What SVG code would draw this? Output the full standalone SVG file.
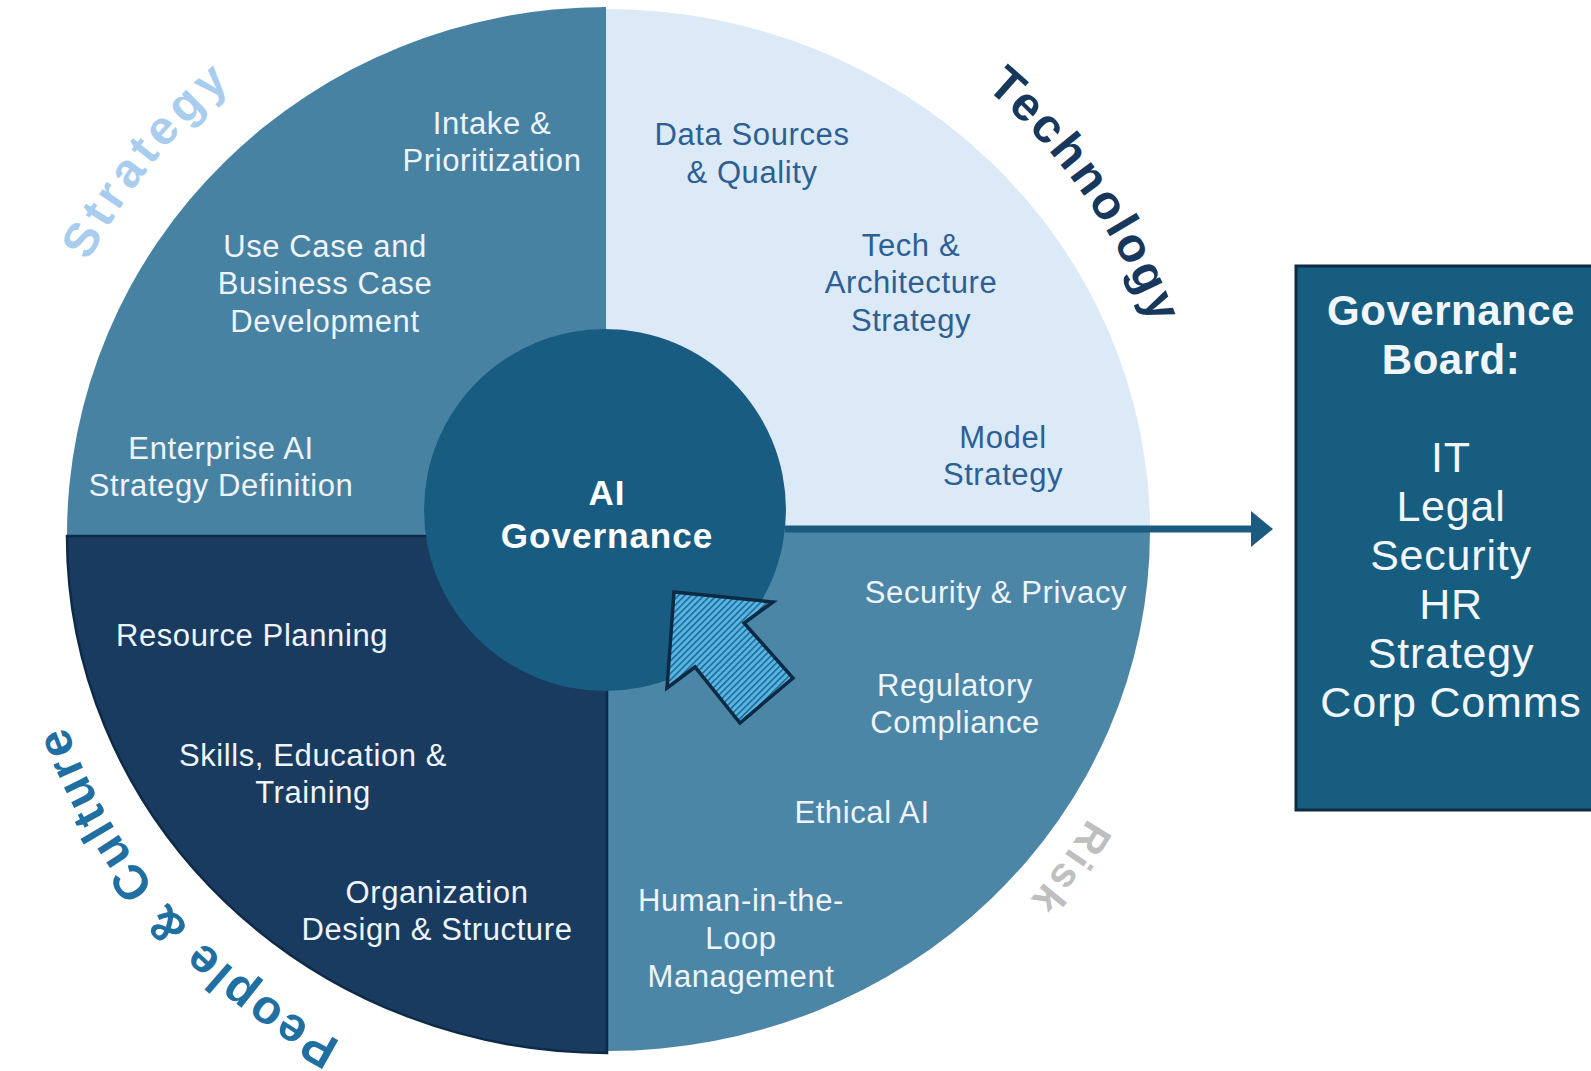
<svg xmlns="http://www.w3.org/2000/svg" width="1591" height="1071" viewBox="0 0 1591 1071">
<style>
.t{font-family:"Liberation Sans",Arial,sans-serif;font-size:31px;text-anchor:middle;letter-spacing:0.6px}
.w{fill:#eef4fa}
.b{fill:#2c5f94}
.c{font-family:"Liberation Sans",Arial,sans-serif;font-weight:bold;fill:#ffffff;text-anchor:middle}
.lab{font-family:"Liberation Sans",Arial,sans-serif;font-weight:bold;font-size:48px;text-anchor:middle}
.board{font-family:"Liberation Sans",Arial,sans-serif;fill:#f2f6fa;text-anchor:middle}
</style>
<defs>
<pattern id="hatch" width="4.5" height="4.5" patternUnits="userSpaceOnUse" patternTransform="rotate(45)">
<rect width="4.5" height="4.5" fill="#58b6e3"/><rect width="1.6" height="4.5" fill="#1f6a96"/>
</pattern>
<marker id="ah" markerUnits="userSpaceOnUse" markerWidth="24" markerHeight="36" refX="2" refY="18" orient="auto">
<path d="M0,0 L22,18 L0,36 Z" fill="#1b5b80"/>
</marker>
<path id="pStrategy" d="M23.2,545.3 A585,585 0 0 1 492.4,-42.5"/>
<path id="pTech" d="M756.7,-31.7 A582,582 0 0 1 1188,579.7"/>
<path id="pPeople" d="M518.8,1100.1 A576,576 0 0 1 32.1,542.0"/>
<path id="pRisk" d="M1163,588.4 A562,562 0 0 1 837.4,1044.4"/>
</defs>
<rect width="1591" height="1071" fill="#ffffff"/>

<g id="quadrant-strategy">
<path d="M606,535 L67,535 A539,528 0 0 1 606,7 Z" fill="#4882a3"/>
<text class="lab" fill="#a8cdef"><textPath href="#pStrategy" startOffset="50%" textLength="228" lengthAdjust="spacing">Strategy</textPath></text>
<text class="t w"><tspan x="492" y="134">Intake &amp;</tspan><tspan x="492" y="171">Prioritization</tspan></text>
<text class="t w"><tspan x="325" y="257">Use Case and</tspan><tspan x="325" y="294">Business Case</tspan><tspan x="325" y="332">Development</tspan></text>
<text class="t w"><tspan x="221" y="459">Enterprise AI</tspan><tspan x="221" y="496">Strategy Definition</tspan></text>
</g>

<g id="quadrant-technology">
<path d="M606,531 L606,9 A544,522 0 0 1 1150,531 Z" fill="#dce9f6"/>
<text class="lab" fill="#17385c"><textPath href="#pTech" startOffset="50%" textLength="292" lengthAdjust="spacing">Technology</textPath></text>
<text class="t b"><tspan x="752" y="145">Data Sources</tspan><tspan x="752" y="183">&amp; Quality</tspan></text>
<text class="t b"><tspan x="911" y="256">Tech &amp;</tspan><tspan x="911" y="293">Architecture</tspan><tspan x="911" y="331">Strategy</tspan></text>
<text class="t b"><tspan x="1003" y="448">Model</tspan><tspan x="1003" y="485">Strategy</tspan></text>
</g>

<g id="quadrant-risk">
<path d="M608,531 L1150,531 A542,520 0 0 1 608,1051 Z" fill="#4b86a7"/>
<text class="lab" fill="#bfbfbf" style="font-size:42px"><textPath href="#pRisk" startOffset="50%" textLength="100" lengthAdjust="spacing">Risk</textPath></text>
<text class="t w"><tspan x="996" y="603">Security &amp; Privacy</tspan></text>
<text class="t w"><tspan x="955" y="696">Regulatory</tspan><tspan x="955" y="733">Compliance</tspan></text>
<text class="t w"><tspan x="862" y="823">Ethical AI</tspan></text>
<text class="t w"><tspan x="741" y="911">Human-in-the-</tspan><tspan x="741" y="949">Loop</tspan><tspan x="741" y="987">Management</tspan></text>
</g>

<g id="quadrant-people">
<path d="M607,536 L607,1053 A540,517 0 0 1 67,536 Z" fill="#193b60" stroke="#0f2a46" stroke-width="2.5"/>
<text class="lab" fill="#1f6fa3"><textPath href="#pPeople" startOffset="50%" textLength="428" lengthAdjust="spacing">People &amp; Culture</textPath></text>
<text class="t w"><tspan x="252" y="646">Resource Planning</tspan></text>
<text class="t w"><tspan x="313" y="766">Skills, Education &amp;</tspan><tspan x="313" y="803">Training</tspan></text>
<text class="t w"><tspan x="437" y="903">Organization</tspan><tspan x="437" y="940">Design &amp; Structure</tspan></text>
</g>

<g id="connectors">
<line x1="785" y1="529" x2="1253" y2="529" stroke="#1b5b80" stroke-width="7" marker-end="url(#ah)"/>
</g>

<g id="ai-governance">
<circle cx="605" cy="510" r="181" fill="#185d81"/>
<text class="c" style="font-size:35px;letter-spacing:1px"><tspan x="607" y="505">AI</tspan><tspan x="607" y="548">Governance</tspan></text>
</g>

<g id="pointer-arrow">
<polygon points="674,592 773,602 744,623 793,678 740,723 695,667 667,688" fill="url(#hatch)" stroke="#0d2a44" stroke-width="3.5" stroke-linejoin="miter"/>
</g>

<g id="governance-board">
<rect x="1296" y="266" width="310" height="544" fill="#175d80" stroke="#0d2c42" stroke-width="3"/>
<text class="board" style="font-weight:bold;font-size:42px;letter-spacing:0.5px"><tspan x="1451" y="325">Governance</tspan><tspan x="1451" y="374">Board:</tspan></text>
<text class="board" style="font-size:43px;letter-spacing:0.8px"><tspan x="1451" y="472">IT</tspan><tspan x="1451" y="521">Legal</tspan><tspan x="1451" y="570">Security</tspan><tspan x="1451" y="619">HR</tspan><tspan x="1451" y="668">Strategy</tspan><tspan x="1451" y="717">Corp Comms</tspan></text>
</g>
</svg>
